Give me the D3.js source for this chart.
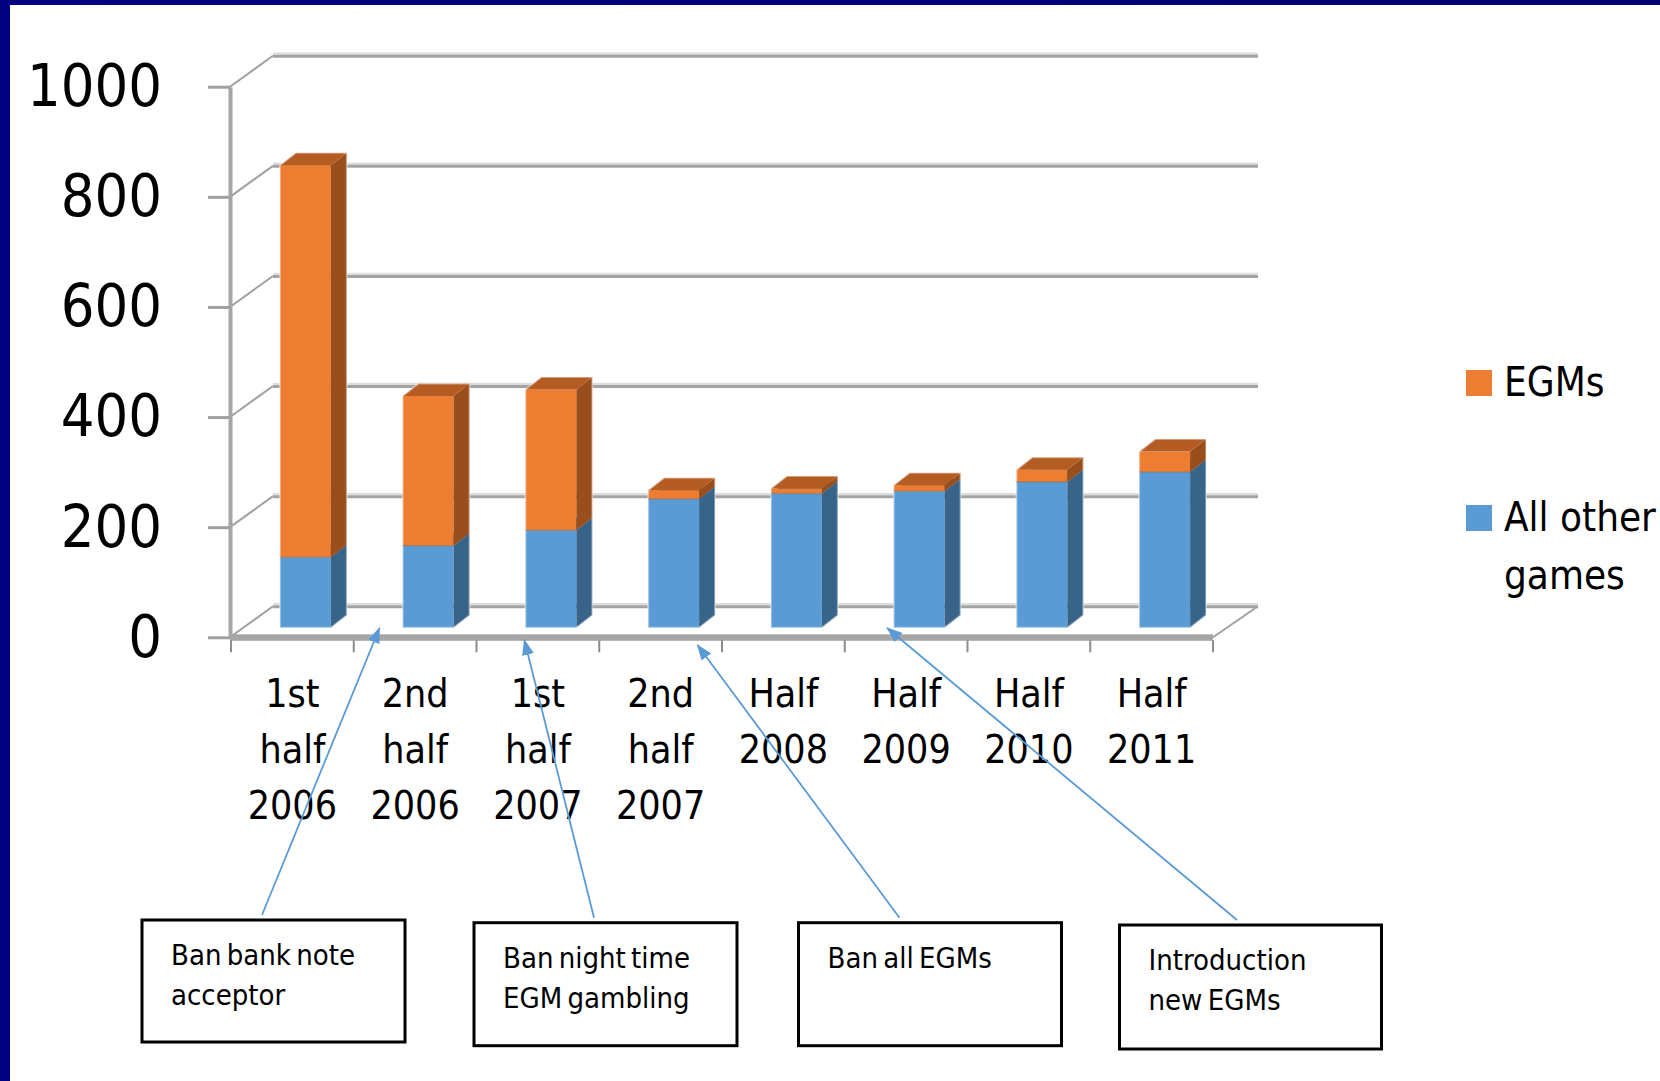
<!DOCTYPE html>
<html>
<head>
<meta charset="utf-8">
<script src="https://cdn.jsdelivr.net/npm/d3@7"></script>
<style>
  html, body { margin: 0; padding: 0; background: #ffffff; overflow: hidden; }
  svg { display: block; }
  text { font-family: "DejaVu Sans Condensed", "DejaVu Sans", sans-serif; }
</style>
</head>
<body>
<script>
// Gambling turnover by half-year, split into EGMs and all other games
const categories = ["1st half 2006", "2nd half 2006", "1st half 2007", "2nd half 2007",
                    "Half 2008", "Half 2009", "Half 2010", "Half 2011"];
const otherGames = [128, 149, 177, 234, 244, 248, 265, 283];
const egms       = [712, 272, 256, 16, 9, 11, 22, 37];
const yTicks = [0, 200, 400, 600, 800, 1000];
const seriesKeys = ["other", "egms"];
const legendLabels = [["EGMs"], ["All other", "games"]];

// Policy events and the period each arrow points at
const eventTexts = [["Ban bank note", "acceptor"], ["Ban night time", "EGM gambling"],
                    ["Ban all EGMs"], ["Introduction", "new EGMs"]];
const eventTargets = ["2nd half 2006", "1st half 2007", "2nd half 2007", "Half 2009"];

const W = 1660, H = 1081;
const colors = {
  egms:  { front: "#ED7D31", side: "#9A4E1C", top: "#B45C22" },
  other: { front: "#5B9BD5", side: "#386489", top: "#4879A6" }
};

const svg = d3.select("body").append("svg").attr("width", W).attr("height", H);

// slide background with navy frame on top and left
svg.append("rect").attr("width", W).attr("height", H).attr("fill", "#ffffff");
const navy = svg.append("defs").append("linearGradient").attr("id", "navy")
  .attr("x1", 0).attr("x2", 1).attr("y1", 0).attr("y2", 0);
navy.append("stop").attr("offset", 0).attr("stop-color", "#000080");
navy.append("stop").attr("offset", 0.5).attr("stop-color", "#00007A");
navy.append("stop").attr("offset", 1).attr("stop-color", "#000070");
svg.append("rect").attr("x", 0).attr("y", 0).attr("width", W).attr("height", 5).attr("fill", "url(#navy)");
svg.append("rect").attr("x", 0).attr("y", 0).attr("width", 10).attr("height", H).attr("fill", "#000080");

// scales
const y = d3.scaleLinear().domain([0, 1000]).range([637.3, 86.7]);
const x = d3.scaleBand().domain(categories).range([231, 1213])
  .paddingInner(0.585).paddingOuter(0.2925);
const axisX = 230;
const wallDepth = { dx: 43, dy: -31 };   // front plane -> back wall
const barShift = { dx: 13, dy: -9.5 };   // front plane -> bar front faces
const barDepth = { dx: 16, dy: -12.5 };  // bar front -> bar back

const chart = svg.append("g");

// back wall gridlines
const grid = chart.append("g");
yTicks.forEach(v => {
  const gy = y(v) + wallDepth.dy;
  grid.append("line").attr("x1", axisX + wallDepth.dx).attr("x2", 1258)
    .attr("y1", gy - 2).attr("y2", gy - 2).attr("stroke", "#dedede").attr("stroke-width", 2.5);
  grid.append("line").attr("x1", axisX + wallDepth.dx).attr("x2", 1258)
    .attr("y1", gy + 0.5).attr("y2", gy + 0.5).attr("stroke", "#a3a3a3").attr("stroke-width", 3);
  // side wall diagonals
  grid.append("line").attr("x1", axisX).attr("y1", y(v))
    .attr("x2", axisX + wallDepth.dx).attr("y2", gy)
    .attr("stroke", "#a0a0a0").attr("stroke-width", 2);
});
// right floor edge
grid.append("line").attr("x1", x.range()[1]).attr("y1", y(0))
  .attr("x2", x.range()[1] + wallDepth.dx + 2).attr("y2", y(0) + wallDepth.dy)
  .attr("stroke", "#a0a0a0").attr("stroke-width", 2);

// stacked 3D bars
const rows = categories.map((c, i) => ({ cat: c, other: otherGames[i], egms: egms[i] }));
const stacked = d3.stack().keys(seriesKeys)(rows);
const bw = x.bandwidth();

const bars = chart.append("g");
rows.forEach((r, i) => {
  const g = bars.append("g");
  const x0 = x(r.cat) + barShift.dx, x1 = x0 + bw;
  let topY = null, baseY = null;
  stacked.forEach(series => {
    const seg = series[i];
    const yb = y(seg[0]) + barShift.dy, yt = y(seg[1]) + barShift.dy;
    const c = colors[series.key];
    if (baseY === null) baseY = yb;
    topY = yt;
    // front face
    g.append("rect").attr("x", x0).attr("y", yt).attr("width", bw).attr("height", yb - yt)
      .attr("fill", c.front);
    // right side face
    g.append("path").attr("d", d3.line()([
      [x1, yt], [x1 + barDepth.dx, yt + barDepth.dy],
      [x1 + barDepth.dx, yb + barDepth.dy], [x1, yb]])).attr("fill", c.side);
    // top face
    g.append("path").attr("d", d3.line()([
      [x0, yt], [x1, yt], [x1 + barDepth.dx, yt + barDepth.dy], [x0 + barDepth.dx, yt + barDepth.dy]]))
      .attr("fill", c.top);
  });
  // soft highlight round the silhouette
  g.append("path").attr("d", d3.line()([
    [x0, baseY], [x0, topY], [x0 + barDepth.dx, topY + barDepth.dy],
    [x1 + barDepth.dx, topY + barDepth.dy], [x1 + barDepth.dx, baseY + barDepth.dy],
    [x1, baseY]]) + "Z")
    .attr("fill", "none").attr("stroke", "#ffffff").attr("stroke-opacity", 0.4).attr("stroke-width", 2);
  // seam between the two series
  const seamY = y(r.other) + barShift.dy;
  g.append("line").attr("x1", x0).attr("x2", x1).attr("y1", seamY).attr("y2", seamY)
    .attr("stroke", "#8a7a6a").attr("stroke-opacity", 0.5).attr("stroke-width", 1.5);
});

// value axis
const yAxis = chart.append("g").attr("transform", `translate(${axisX},0)`)
  .call(d3.axisLeft(y).tickValues(yTicks).tickFormat(d3.format("d"))
    .tickSize(22).tickSizeOuter(0).tickPadding(46));
yAxis.select(".domain").attr("stroke", "#a6a6a6").attr("stroke-width", 4);
yAxis.selectAll(".tick line").attr("stroke", "#a0a0a0").attr("stroke-width", 3);
yAxis.selectAll(".tick text").attr("font-size", 59).attr("fill", "#000")
  .attr("font-family", '"DejaVu Sans Condensed", "DejaVu Sans", sans-serif');

// floor front edge and category axis
const xr = x.range();
chart.append("rect").attr("x", axisX).attr("y", y(0) - 3).attr("width", xr[1] - axisX)
  .attr("height", 6.5).attr("fill", "#a6a6a6");
const bounds = categories.map(c => x(c) - x.step() * x.paddingInner() / 2).concat([xr[1]]);
chart.append("g").selectAll("line").data(bounds).join("line")
  .attr("x1", d => d).attr("x2", d => d).attr("y1", y(0) + 3).attr("y2", y(0) + 15)
  .attr("stroke", "#8c8c8c").attr("stroke-width", 2);

const xLabels = chart.append("g");
categories.forEach(c => {
  const t = xLabels.append("text").attr("x", x(c) + bw / 2).attr("text-anchor", "middle")
    .attr("font-size", 39).attr("fill", "#000");
  c.split(" ").forEach((w, k) => {
    t.append("tspan").attr("x", x(c) + bw / 2).attr("y", 707 + k * 56).text(w);
  });
});

// legend
const legend = svg.append("g");
const legendRows = [{ key: "egms", lines: legendLabels[0], y: 370 }, { key: "other", lines: legendLabels[1], y: 505 }];
legendRows.forEach(lr => {
  legend.append("rect").attr("x", 1466).attr("y", lr.y).attr("width", 26).attr("height", 26)
    .attr("fill", colors[lr.key].front);
  lr.lines.forEach((ln, k) => {
    legend.append("text").attr("x", 1504).attr("y", lr.y + 26 + k * 58)
      .attr("font-size", 40).attr("fill", "#000").text(ln);
  });
});

// policy event call-outs
const defs = svg.select("defs");
defs.append("marker").attr("id", "head").attr("viewBox", "0 0 16 12")
  .attr("refX", 15).attr("refY", 6).attr("markerWidth", 16).attr("markerHeight", 12)
  .attr("markerUnits", "userSpaceOnUse").attr("orient", "auto")
  .append("path").attr("d", "M0,0L16,6L0,12Z").attr("fill", "#5B9BD5");

const boxes = [
  { x: 142, y: 920, w: 263, h: 122, from: 120, tipOff: -0.29, tipY: 628 },
  { x: 474, y: 922.7, w: 263, h: 123, from: 120, tipOff: -0.11, tipY: 640 },
  { x: 798.5, y: 922.7, w: 263, h: 123, from: 101, tipOff: 0.30, tipY: 645 },
  { x: 1119.5, y: 925, w: 262, h: 124, from: 117.5, tipOff: -0.155, tipY: 628 }
];
const notes = svg.append("g");
boxes.forEach((b, i) => {
  const tipX = x(eventTargets[i]) + bw / 2 + b.tipOff * x.step();
  notes.append("line").attr("x1", b.x + b.from).attr("y1", b.y - 5)
    .attr("x2", tipX).attr("y2", b.tipY)
    .attr("stroke", "#5B9BD5").attr("stroke-width", 1.8).attr("marker-end", "url(#head)");
  notes.append("rect").attr("x", b.x).attr("y", b.y).attr("width", b.w).attr("height", b.h)
    .attr("fill", "#fff").attr("stroke", "#000").attr("stroke-width", 3);
  eventTexts[i].forEach((ln, k) => {
    notes.append("text").attr("x", b.x + 29).attr("y", b.y + 45 + k * 40)
      .attr("font-size", 29).attr("fill", "#000").attr("word-spacing", -3).text(ln);
  });
});
</script>
</body>
</html>
